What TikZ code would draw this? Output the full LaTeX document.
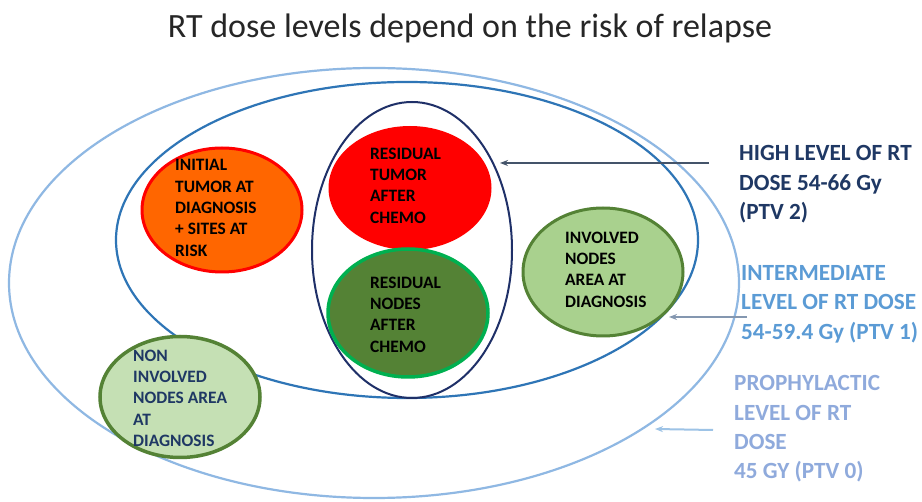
\documentclass[tikz,border=0pt]{standalone}
\usepackage{fontspec}
\setmainfont{Carlito}
\usetikzlibrary{shapes.geometric,arrows.meta}
\definecolor{outerblue}{HTML}{8FB8E3}
\definecolor{midblue}{HTML}{2E75B6}
\definecolor{navyblue}{HTML}{1F3068}
\definecolor{orangefill}{HTML}{FF6600}
\definecolor{redfill}{HTML}{FF0000}
\definecolor{darkgreen}{HTML}{548235}
\definecolor{brightgreen}{HTML}{00B050}
\definecolor{lightgreen}{HTML}{A9D18E}
\definecolor{palegreen}{HTML}{C5E0B4}
\definecolor{highcol}{HTML}{1F3864}
\definecolor{intcol}{HTML}{5B9BD5}
\definecolor{procol}{HTML}{8FAADC}
\definecolor{higharrow}{HTML}{44546A}
\definecolor{intarrow}{HTML}{8497B0}
\definecolor{proarrow}{HTML}{9DC3E6}
\definecolor{titlecol}{HTML}{262626}
\begin{document}
\begin{tikzpicture}[x=1pt,y=-1pt,
  zone/.style={ellipse, inner sep=0pt, line width=2.2pt},
  blob/.style={ellipse, inner sep=0pt, line width=3pt},
  blobtext/.style={anchor=north west, inner sep=0pt, align=left, text=black,
    font=\bfseries\fontsize{17.4}{21.3}\selectfont},
  doselabel/.style={anchor=north west, inner sep=0pt, align=left,
    font=\bfseries\fontsize{23.2}{29.2}\selectfont},
  pointer/.style={line width=2pt, -{Stealth[length=8pt,width=6pt]}}]
\useasboundingbox (0,0) rectangle (922,502);
\fill[white] (0,0) rectangle (922,502);

% title
\node[anchor=base, inner sep=0pt, text=titlecol, font=\fontsize{34}{40}\selectfont] (title) at (470,38) {RT dose levels depend on the risk of relapse};

% zones
\node[zone, draw=outerblue, minimum width=730pt, minimum height=430pt] (outer) at (374,283) {};
\node[zone, draw=midblue, minimum width=582pt, minimum height=316pt] (inner) at (407,240) {};
\node[zone, draw=navyblue, line width=2pt, minimum width=200pt, minimum height=296pt] (navy) at (412,250) {};

% blobs
\node[blob, fill=orangefill, draw=redfill, minimum width=160pt, minimum height=124pt] (initial) at (222,210) {};
\node[blob, fill=redfill, draw=none, minimum width=163pt, minimum height=124pt] (restumor) at (410,188) {};
\node[blob, fill=darkgreen, draw=brightgreen, line width=3.5pt, minimum width=160pt, minimum height=128pt] (resnodes) at (408,313) {};
\node[blob, fill=lightgreen, draw=darkgreen, minimum width=160pt, minimum height=128pt] (involved) at (603,272) {};
\node[blob, fill=palegreen, draw=darkgreen, line width=3.5pt, minimum width=160pt, minimum height=121pt] (noninv) at (180,397) {};

% blob texts
\node[blobtext] (initialtext) at (175,159.5) {INITIAL\\TUMOR AT\\DIAGNOSIS\\+ SITES AT\\RISK};
\node[blobtext] (restumortext) at (370,147.5) {RESIDUAL\\TUMOR\\AFTER\\CHEMO};
\node[blobtext] (resnodestext) at (370,276.5) {RESIDUAL\\NODES\\AFTER\\CHEMO};
\node[blobtext] (involvedtext) at (565,231.5) {INVOLVED\\NODES\\AREA AT\\DIAGNOSIS};
\node[blobtext, text=highcol] (noninvtext) at (133,349.5) {NON\\INVOLVED\\NODES AREA\\AT\\DIAGNOSIS};

% dose labels
\node[doselabel, text=highcol] (high) at (739,145.5) {HIGH LEVEL OF RT\\DOSE 54-66 Gy\\(PTV 2)};
\node[doselabel, text=intcol] (intermediate) at (741,265.5) {INTERMEDIATE\\LEVEL OF RT DOSE\\54-59.4 Gy (PTV 1)};
\node[doselabel, text=procol] (prophylactic) at (734,375.5) {PROPHYLACTIC\\LEVEL OF RT\\DOSE\\45 GY (PTV 0)};

% pointers
\coordinate (highS) at (709,163);
\coordinate (highE) at (500,163);
\coordinate (intS) at (747,317);
\coordinate (intE) at (669,317);
\coordinate (proS) at (713,430);
\coordinate (proE) at (655,429);
\draw[pointer, draw=higharrow] (highS) -- (highE);
\draw[pointer, draw=intarrow] (intS) -- (intE);
\draw[pointer, draw=proarrow] (proS) -- (proE);
\end{tikzpicture}
\end{document}
